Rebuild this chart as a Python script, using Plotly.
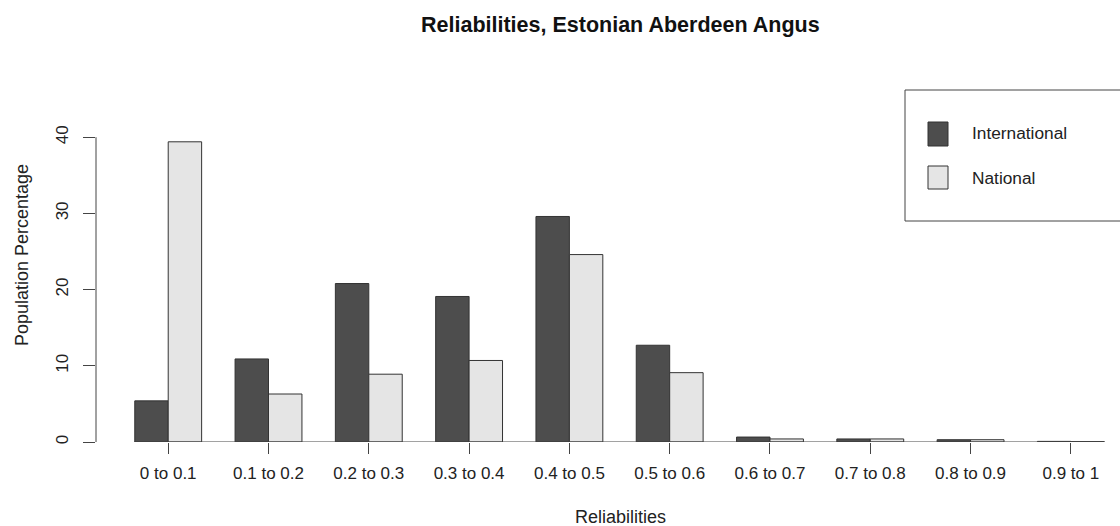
import plotly.graph_objects as go

categories = ["0 to 0.1", "0.1 to 0.2", "0.2 to 0.3", "0.3 to 0.4", "0.4 to 0.5",
              "0.5 to 0.6", "0.6 to 0.7", "0.7 to 0.8", "0.8 to 0.9", "0.9 to 1"]
international = [5.4, 10.9, 20.8, 19.1, 29.6, 12.7, 0.65, 0.4, 0.3, 0.08]
national = [39.4, 6.3, 8.9, 10.7, 24.6, 9.1, 0.4, 0.4, 0.3, 0.05]
series_names = ["International", "National"]
y_ticks = [0, 10, 20, 30, 40]

DARK = "#4d4d4d"
LIGHT = "#e5e5e5"
EDGE = "#333333"
FONT = "Liberation Sans, Arial, sans-serif"

W, H = 1120, 526
# plot area in screen pixels
PL, PR, PT, PB = 96, 1120, 129, 442
L, T, R, B = PL, PT, W - PR, H - PB
pw, ph = W - L - R, H - T - B

def px_x(p):
    return (p - PL) / pw

def px_y(p):
    return (PB - p) / ph

fig = go.Figure()
fig.add_trace(go.Bar(x=categories, y=international, name=series_names[0],
                     marker=dict(color=DARK, line=dict(color=EDGE, width=1)),
                     showlegend=False))
fig.add_trace(go.Bar(x=categories, y=national, name=series_names[1],
                     marker=dict(color=LIGHT, line=dict(color=EDGE, width=1)),
                     showlegend=False))

n = len(categories)
shapes = [
    dict(type="line", xref="x", yref="y", x0=-1/3, x1=n - 1 + 1/3, y0=0, y1=0,
         line=dict(color="#444", width=1)),
    dict(type="line", xref="paper", yref="y", x0=0, x1=0, y0=y_ticks[0], y1=y_ticks[-1],
         line=dict(color="#444", width=1)),
    dict(type="rect", xref="paper", yref="paper", x0=px_x(905), x1=px_x(1130),
         y0=px_y(221), y1=px_y(90), line=dict(color="#444", width=1), fillcolor="white"),
    dict(type="rect", xref="paper", yref="paper", x0=px_x(928), x1=px_x(948),
         y0=px_y(146), y1=px_y(122), line=dict(color=EDGE, width=1), fillcolor=DARK),
    dict(type="rect", xref="paper", yref="paper", x0=px_x(928), x1=px_x(948),
         y0=px_y(189), y1=px_y(166), line=dict(color=EDGE, width=1), fillcolor=LIGHT),
]

annotations = [
    dict(text="<b>Reliabilities, Estonian Aberdeen Angus</b>", xref="paper", yref="paper",
         x=px_x(620), y=px_y(25), showarrow=False, xanchor="center", yanchor="middle",
         font=dict(size=21.5, color="#111", family=FONT)),
    dict(text="Reliabilities", xref="paper", yref="paper",
         x=px_x(620), y=px_y(517), showarrow=False, xanchor="center", yanchor="middle",
         font=dict(size=18, color="#222", family=FONT)),
    dict(text="Population Percentage", xref="paper", yref="paper", textangle=-90,
         x=px_x(22), y=px_y(255), showarrow=False, xanchor="center", yanchor="middle",
         font=dict(size=18, color="#222", family=FONT)),
    dict(text=series_names[0], xref="paper", yref="paper",
         x=px_x(970), y=px_y(133), showarrow=False, xanchor="left", yanchor="middle",
         font=dict(size=17.3, color="#222", family=FONT)),
    dict(text=series_names[1], xref="paper", yref="paper",
         x=px_x(970), y=px_y(178), showarrow=False, xanchor="left", yanchor="middle",
         font=dict(size=17.3, color="#222", family=FONT)),
]

fig.update_layout(
    width=W, height=H,
    margin=dict(l=L, r=R, t=T, b=B, pad=0),
    paper_bgcolor="white", plot_bgcolor="white",
    barmode="group", bargap=1/3, bargroupgap=0,
    shapes=shapes, annotations=annotations,
    font=dict(family=FONT, color="#222"),
    xaxis=dict(range=[-0.72, 9.49], showline=False, showgrid=False, zeroline=False,
               ticks="outside", ticklen=11, tickcolor="#444", tickwidth=1,
               tickfont=dict(size=17, color="#222"), ticklabelstandoff=5,
               fixedrange=True),
    yaxis=dict(range=[0, 41.08], showline=False, showgrid=False, zeroline=False,
               tickvals=y_ticks, ticks="outside", ticklen=12, tickcolor="#444", tickwidth=1,
               tickangle=-90, tickfont=dict(size=17, color="#222"), ticklabelstandoff=8,
               fixedrange=True),
)

fig.write_html(
    "out.html",
    config={"displayModeBar": False},
    post_script="document.body.style.margin='0';document.body.style.overflow='hidden';",
)
